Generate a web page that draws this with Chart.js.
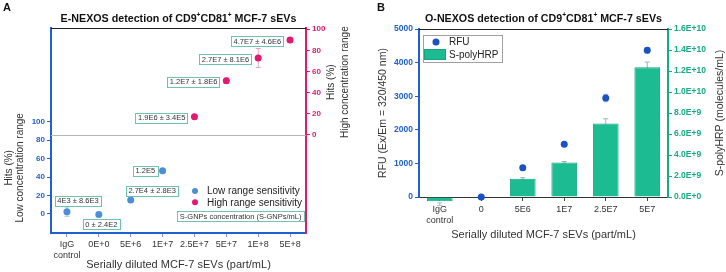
<!DOCTYPE html>
<html lang="en">
<head>
<meta charset="UTF-8">
<title>E-NEXOS / O-NEXOS detection of CD9+CD81+ MCF-7 sEVs</title>
<script src="https://cdn.jsdelivr.net/npm/chart.js"></script>
<style>
  body { margin: 0; background: #fff; }
  .panel { position: absolute; top: 0; height: 272px; }
  #panelA { left: 0; width: 365px; }
  #panelB { left: 365px; width: 361px; }
</style>
</head>
<body>
<div class="panel" id="panelA"><canvas id="chartA" width="365" height="272"></canvas></div>
<div class="panel" id="panelB"><canvas id="chartB" width="361" height="272"></canvas></div>
<script>
  // ---- panel A : E-NEXOS hits ----
  const catsA = [['IgG', 'control'], '0E+0', '5E+6', '1E+7', '2.5E+7', '5E+7', '1E+8', '5E+8'];
  const lowHits = [2.5, -0.5, 15.2, 46.9, null, null, null, null];
  const lowErr = [5, 1, 1.5, 1, null, null, null, null];
  const highHits = [null, null, null, null, 17.3, 51.4, 72.8, 89.8];
  const highErr = [null, null, null, null, 1.5, 2.5, 9, 2];
  const lowNotes = ['4E3 \u00b1 8.6E3', '0 \u00b1 2.4E2', '2.7E4 \u00b1 2.8E3', '1.2E5', null, null, null, null];
  const highNotes = [null, null, null, null, '1.9E6 \u00b1 3.4E5', '1.2E7 \u00b1 1.8E6', '2.7E7 \u00b1 8.1E6', '4.7E7 \u00b1 4.6E6'];
  const hitTicks = [0, 20, 40, 60, 80, 100];

  // ---- panel B : O-NEXOS ----
  const catsB = [['IgG', 'control'], '0', '5E6', '1E7', '2.5E7', '5E7'];
  const rfu = [-215, 0, 872, 1568, 2946, 4366];
  const rfuErr = [40, 20, 60, 60, 110, 80];
  const polyHRP = [-0.41e9, 0, 1.75e9, 3.28e9, 7.0e9, 12.35e9];
  const polyErr = [0, 0, 0.1e9, 0.1e9, 0.45e9, 0.5e9];

  const FONT = '"Liberation Sans", Arial, sans-serif';
  const BLUE = '#1f5fcf';
  const LOW = '#4c8ed8';
  const PINK = '#e3186f';
  const TEAL = '#17ab85';
  const BAR = '#1dbb92';
  const RFU = '#1a52c2';
  const NOTE = '#6cc4ae';

  Chart.defaults.font.family = FONT;
  Chart.defaults.color = '#333';

  function richTitle(ctx, parts, cx, cy, size) {
    const base = 'bold ' + size + 'px ' + FONT;
    const sup = 'bold ' + (size * 0.62) + 'px ' + FONT;
    let w = 0;
    parts.forEach(p => { ctx.font = p.sup ? sup : base; w += ctx.measureText(p.t).width; });
    let x = cx - w / 2;
    ctx.textAlign = 'left';
    ctx.textBaseline = 'middle';
    ctx.fillStyle = '#111';
    parts.forEach(p => {
      ctx.font = p.sup ? sup : base;
      ctx.fillText(p.t, x, p.sup ? cy - size * 0.33 : cy);
      x += ctx.measureText(p.t).width;
    });
  }

  function vText(ctx, text, x, y, size) {
    ctx.save();
    ctx.translate(x, y);
    ctx.rotate(-Math.PI / 2);
    ctx.font = size + 'px ' + FONT;
    ctx.fillStyle = '#333';
    ctx.textAlign = 'center';
    ctx.textBaseline = 'middle';
    ctx.fillText(text, 0, 0);
    ctx.restore();
  }

  function noteBox(ctx, text, x, y, align) {
    ctx.font = '7.5px ' + FONT;
    const w = ctx.measureText(text).width + 5, h = 10;
    const left = align === 'right' ? x - w : x - w / 2;
    ctx.fillStyle = '#fff';
    ctx.fillRect(left, y - h / 2, w, h);
    ctx.strokeStyle = NOTE;
    ctx.lineWidth = 1;
    ctx.strokeRect(Math.round(left) + 0.5, Math.round(y - h / 2) + 0.5, Math.round(w), h);
    ctx.fillStyle = '#333';
    ctx.textAlign = 'center';
    ctx.textBaseline = 'middle';
    ctx.fillText(text, left + w / 2, y + 0.5);
  }

  // error bars through each dataset's own y scale
  const errorBars = {
    id: 'errorBars',
    beforeDatasetsDraw(chart) {
      const ctx = chart.ctx;
      chart.data.datasets.forEach((ds, i) => {
        if (!ds.errors) return;
        const meta = chart.getDatasetMeta(i);
        const ys = chart.scales[ds.yAxisID];
        meta.data.forEach((el, j) => {
          const v = ds.data[j], e = ds.errors[j];
          if (v == null || !e) return;
          const t = ys.getPixelForValue(v + e), b = ys.getPixelForValue(v - e);
          ctx.save();
          ctx.strokeStyle = ds.errorColor;
          ctx.lineWidth = 1;
          ctx.beginPath();
          ctx.moveTo(el.x, t); ctx.lineTo(el.x, b);
          ctx.moveTo(el.x - 2.5, t); ctx.lineTo(el.x + 2.5, t);
          ctx.moveTo(el.x - 2.5, b); ctx.lineTo(el.x + 2.5, b);
          ctx.stroke();
          ctx.restore();
        });
      });
    }
  };

  // where each note box sits relative to its point
  const notePlace = {
    low: [{ a: 'center', dx: 11, dy: -11 }, { a: 'center', dx: 2.5, dy: 9.5 }, { a: 'center', dx: 21.5, dy: -9.3 }, { a: 'right', dx: -5, dy: 0 }],
    high: { a: 'right', dx: -6.5, dy: 1 }
  };

  const decoA = {
    id: 'decoA',
    beforeDatasetsDraw(chart) {
      const { ctx, chartArea: ca, scales } = chart;
      const y0 = Math.round(scales.y1.getPixelForValue(0)) + 0.5;
      ctx.save();
      ctx.strokeStyle = '#b5b5b5';
      ctx.lineWidth = 1;
      ctx.beginPath(); ctx.moveTo(ca.left, y0); ctx.lineTo(ca.right, y0); ctx.stroke();
      ctx.strokeStyle = '#222';
      ctx.beginPath(); ctx.moveTo(ca.left, ca.top + 0.5); ctx.lineTo(ca.right, ca.top + 0.5); ctx.stroke();
      ctx.restore();
    },
    afterDraw(chart) {
      const { ctx, chartArea: ca, scales } = chart;
      ctx.save();
      ctx.font = 'bold 11px ' + FONT;
      ctx.fillStyle = '#111';
      ctx.textAlign = 'left'; ctx.textBaseline = 'top';
      ctx.fillText('A', 3, 2);
      richTitle(ctx, [{ t: 'E-NEXOS detection of CD9' }, { t: '+', sup: true }, { t: 'CD81' }, { t: '+', sup: true }, { t: ' MCF-7 sEVs' }],
        (ca.left + ca.right) / 2, 19, 10.7);

      const cyL = (scales.y.getPixelForValue(0) + scales.y.getPixelForValue(100)) / 2;
      vText(ctx, 'Hits (%)', 9, cyL, 10);
      vText(ctx, 'Low concentration range', 20, cyL, 10);
      const cyR = (scales.y1.getPixelForValue(0) + scales.y1.getPixelForValue(100)) / 2;
      vText(ctx, 'Hits (%)', 331, cyR, 10);
      vText(ctx, 'High concentration range', 345, cyR, 10);

      ctx.font = '11px ' + FONT;
      ctx.fillStyle = '#333';
      ctx.textAlign = 'center'; ctx.textBaseline = 'middle';
      ctx.fillText('Serially diluted MCF-7 sEVs (part/mL)', (ca.left + ca.right) / 2, 265);

      // notes
      const mLow = chart.getDatasetMeta(0), mHigh = chart.getDatasetMeta(1);
      lowNotes.forEach((t, j) => {
        if (!t) return;
        const p = notePlace.low[j], el = mLow.data[j];
        noteBox(ctx, t, el.x + p.dx, el.y + p.dy, p.a);
      });
      highNotes.forEach((t, j) => {
        if (!t) return;
        const p = notePlace.high, el = mHigh.data[j];
        noteBox(ctx, t, el.x + p.dx, el.y + p.dy, p.a);
      });

      // legend
      const lx = ca.left + 144;
      chart.data.datasets.forEach((ds, i) => {
        const ly = ca.bottom - 42 + i * 11.3;
        ctx.fillStyle = ds.backgroundColor;
        ctx.beginPath(); ctx.arc(lx, ly, 3, 0, Math.PI * 2); ctx.fill();
        ctx.fillStyle = '#222';
        ctx.font = '10px ' + FONT;
        ctx.textAlign = 'left'; ctx.textBaseline = 'middle';
        ctx.fillText(ds.label, lx + 12, ly + 0.5);
      });
      noteBox(ctx, 'S-GNPs concentration (S-GNPs/mL)', ca.right - 2, ca.bottom - 17, 'right');
      ctx.restore();
    }
  };

  new Chart(document.getElementById('chartA'), {
    type: 'line',
    data: {
      labels: catsA,
      datasets: [
        { label: 'Low range sensitivity', data: lowHits, yAxisID: 'y', showLine: false,
          pointRadius: 3.5, pointBorderWidth: 0, backgroundColor: LOW, borderColor: LOW,
          errors: lowErr, errorColor: '#a9c8ee' },
        { label: 'High range sensitivity', data: highHits, yAxisID: 'y1', showLine: false,
          pointRadius: 3.5, pointBorderWidth: 0, backgroundColor: PINK, borderColor: PINK,
          errors: highErr, errorColor: '#f2a0c2' }
      ]
    },
    options: {
      responsive: false,
      animation: false,
      layout: { padding: { top: 28 } },
      plugins: { legend: { display: false }, tooltip: { enabled: false } },
      scales: {
        x: {
          offset: true,
          grid: { offset: false, drawOnChartArea: false, tickLength: 4, color: '#7f9fd8' },
          border: { color: BLUE, width: 2 },
          ticks: { color: '#333', font: { size: 9 }, autoSkip: false, maxRotation: 0, padding: 2 },
          afterFit: s => { s.height = 39; }
        },
        y: {
          position: 'left', min: -20.6, max: 201.5,
          afterBuildTicks: s => { s.ticks = hitTicks.map(v => ({ value: v })); },
          grid: { drawOnChartArea: false, tickLength: 4, color: BLUE },
          border: { color: BLUE, width: 2 },
          ticks: { color: BLUE, font: { size: 8, weight: 'bold' }, padding: 2, callback: v => String(v) },
          afterFit: s => { s.width = 51; }
        },
        y1: {
          position: 'right', min: -92.7, max: 101.2,
          afterBuildTicks: s => { s.ticks = hitTicks.map(v => ({ value: v })); },
          grid: { drawOnChartArea: false, tickLength: 4, color: PINK },
          border: { color: PINK, width: 2 },
          ticks: { color: PINK, font: { size: 8, weight: 'bold' }, padding: 2, callback: v => String(v) },
          afterFit: s => { s.width = 59; }
        }
      }
    },
    plugins: [errorBars, decoA]
  });

  const decoB = {
    id: 'decoB',
    beforeDatasetsDraw(chart) {
      const { ctx, chartArea: ca } = chart;
      ctx.save();
      ctx.strokeStyle = '#222';
      ctx.lineWidth = 1;
      ctx.beginPath(); ctx.moveTo(ca.left, ca.top + 0.5); ctx.lineTo(ca.right, ca.top + 0.5); ctx.stroke();
      ctx.restore();
    },
    afterDraw(chart) {
      const { ctx, chartArea: ca } = chart;
      ctx.save();
      ctx.font = 'bold 11px ' + FONT;
      ctx.fillStyle = '#111';
      ctx.textAlign = 'left'; ctx.textBaseline = 'top';
      ctx.fillText('B', 12, 2);
      richTitle(ctx, [{ t: 'O-NEXOS detection of CD9' }, { t: '+', sup: true }, { t: 'CD81' }, { t: '+', sup: true }, { t: ' MCF-7 sEVs' }],
        (ca.left + ca.right) / 2, 19, 10.7);

      const cy = (ca.top + ca.bottom) / 2;
      vText(ctx, 'RFU (Ex/Em = 320/450 nm)', 18, cy, 10.5);
      vText(ctx, 'S-polyHRP (molecules/mL)', 355, cy, 10.5);

      ctx.font = '11px ' + FONT;
      ctx.fillStyle = '#333';
      ctx.textAlign = 'center'; ctx.textBaseline = 'middle';
      ctx.fillText('Serially diluted MCF-7 sEVs (part/mL)', (ca.left + ca.right) / 2, 235);

      // legend box
      const [dsR, dsB] = chart.data.datasets;
      ctx.font = '10px ' + FONT;
      const bw = Math.round(Math.max(ctx.measureText(dsR.label).width, ctx.measureText(dsB.label).width) + 30);
      const bx = ca.left + 4, by = ca.top + 6;
      ctx.fillStyle = '#fff';
      ctx.fillRect(bx, by, bw, 27);
      ctx.strokeStyle = '#a0a0a0';
      ctx.lineWidth = 1;
      ctx.strokeRect(bx + 0.5, by + 0.5, bw, 27);
      ctx.fillStyle = dsR.backgroundColor;
      ctx.beginPath(); ctx.arc(bx + 13, by + 7, 3.5, 0, Math.PI * 2); ctx.fill();
      ctx.fillStyle = dsB.backgroundColor;
      ctx.fillRect(bx + 1, by + 14, 22, 11);
      ctx.strokeStyle = dsB.borderColor;
      ctx.strokeRect(bx + 1.5, by + 14.5, 21, 10);
      ctx.fillStyle = '#222';
      ctx.textAlign = 'left'; ctx.textBaseline = 'middle';
      ctx.fillText(dsR.label, bx + 26, by + 7.5);
      ctx.fillText(dsB.label, bx + 26, by + 20);
      ctx.restore();
    }
  };

  new Chart(document.getElementById('chartB'), {
    type: 'bar',
    data: {
      labels: catsB,
      datasets: [
        { type: 'line', label: 'RFU', data: rfu, yAxisID: 'y', showLine: false, order: 0, clip: false,
          pointRadius: 3.5, pointBorderWidth: 0, backgroundColor: RFU, borderColor: RFU,
          errors: rfuErr, errorColor: '#9fb8e6' },
        { type: 'bar', label: 'S-polyHRP', data: polyHRP, yAxisID: 'y1', order: 1, clip: false,
          backgroundColor: BAR, borderColor: '#15a47f', borderWidth: 1,
          barPercentage: 0.62, categoryPercentage: 1,
          errors: polyErr, errorColor: '#9bb8ae' }
      ]
    },
    options: {
      responsive: false,
      animation: false,
      layout: { padding: { top: 29 } },
      plugins: { legend: { display: false }, tooltip: { enabled: false } },
      scales: {
        x: {
          offset: true,
          grid: { offset: false, drawOnChartArea: false, tickLength: 4, color: '#444' },
          border: { color: '#333', width: 1 },
          ticks: { color: '#333', font: { size: 9 }, autoSkip: false, maxRotation: 0, padding: 3 },
          afterFit: s => { s.height = 75; }
        },
        y: {
          position: 'left', min: 0, max: 5000,
          grid: { drawOnChartArea: false, tickLength: 4, color: BLUE },
          border: { color: BLUE, width: 2 },
          ticks: { stepSize: 1000, color: BLUE, font: { size: 8.5, weight: 'bold' }, padding: 2, callback: v => String(v) },
          afterFit: s => { s.width = 54; }
        },
        y1: {
          position: 'right', min: 0, max: 1.6e10,
          grid: { drawOnChartArea: false, tickLength: 4, color: TEAL },
          border: { color: TEAL, width: 2 },
          ticks: { stepSize: 2e9, color: TEAL, font: { size: 8.5, weight: 'bold' }, padding: 2,
            callback: v => Number(v).toExponential(1).toUpperCase() },
          afterFit: s => { s.width = 58; }
        }
      }
    },
    plugins: [errorBars, decoB]
  });
</script>
</body>
</html>
